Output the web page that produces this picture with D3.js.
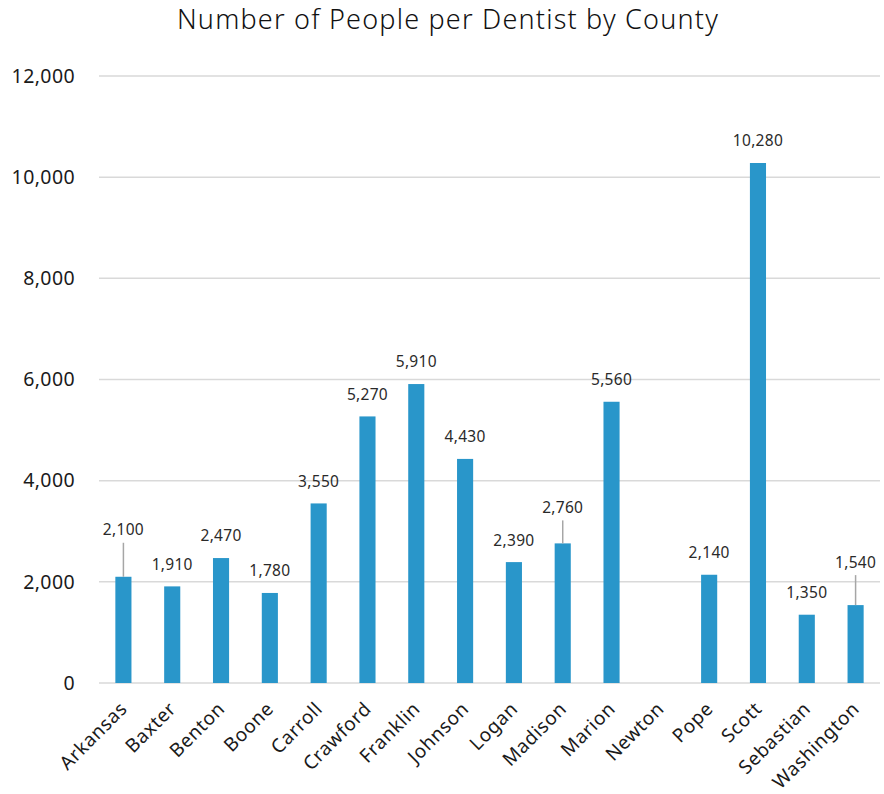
<!DOCTYPE html>
<html>
<head>
<meta charset="utf-8">
<script src="https://cdn.jsdelivr.net/npm/d3@7"></script>
<style>
  html, body { margin: 0; padding: 0; background: #fff; }
  svg { display: block; font-family: "Noto Sans", "Open Sans", sans-serif; }
</style>
</head>
<body>
<svg id="chart" width="884" height="794"></svg>
<script>
// County names along the x axis
const counties = ["Arkansas", "Baxter", "Benton", "Boone", "Carroll", "Crawford", "Franklin", "Johnson",
  "Logan", "Madison", "Marion", "Newton", "Pope", "Scott", "Sebastian", "Washington"];
// People per dentist (Newton has no value)
const peoplePerDentist = [2100, 1910, 2470, 1780, 3550, 5270, 5910, 4430,
  2390, 2760, 5560, null, 2140, 10280, 1350, 1540];
// Y axis ticks
const yTicks = [0, 2000, 4000, 6000, 8000, 10000, 12000];

const FONT = "'Noto Sans', 'Open Sans', sans-serif";
const svg = d3.select("#chart");
const margin = { top: 76, right: 4, bottom: 111, left: 99 };
const W = 884, H = 794;
const innerW = W - margin.left - margin.right;
const innerH = H - margin.top - margin.bottom;

const x = d3.scaleBand().domain(counties).range([margin.left, margin.left + innerW]).paddingInner(0.67).paddingOuter(0.335);
const y = d3.scaleLinear().domain([0, 12000]).range([margin.top + innerH, margin.top]);
const fmt = d3.format(",");

// Title
svg.append("text")
  .attr("x", 448).attr("y", 29)
  .attr("text-anchor", "middle")
  .attr("font-size", 27)
  .attr("font-weight", 300)
  .attr("letter-spacing", 1.2)
  .attr("fill", "#111")
  .text("Number of People per Dentist by County");

// Gridlines
svg.append("g").selectAll("line").data(yTicks).join("line")
  .attr("x1", margin.left).attr("x2", margin.left + innerW)
  .attr("y1", d => y(d)).attr("y2", d => y(d))
  .attr("stroke", "#d9d9d9").attr("stroke-width", 1.5);

// Y axis labels
const yAxis = d3.axisLeft(y).tickValues(yTicks).tickFormat(fmt).tickSize(0).tickPadding(24);
const gy = svg.append("g").attr("transform", `translate(${margin.left},0)`).call(yAxis);
gy.select(".domain").remove();
gy.selectAll("text").attr("font-size", 19.5).attr("letter-spacing", 0.4).attr("fill", "#1a1a1a").attr("font-family", FONT);

// X axis labels, rotated so each ends under its bar
const xAxis = d3.axisBottom(x).tickSize(0).tickPadding(0);
const gx = svg.append("g").attr("transform", `translate(0,${y(0)})`).call(xAxis);
gx.select(".domain").remove();
gx.selectAll("text")
  .attr("font-size", 19).attr("letter-spacing", 0.6).attr("fill", "#1a1a1a").attr("font-family", FONT)
  .attr("text-anchor", "end")
  .attr("dy", null)
  .attr("transform", "translate(5,27) rotate(-45)");

const rows = counties.map((c, i) => ({ county: c, value: peoplePerDentist[i] })).filter(d => d.value != null);

// Bars
svg.append("g").selectAll("rect").data(rows).join("rect")
  .attr("x", d => x(d.county))
  .attr("width", x.bandwidth())
  .attr("y", d => y(d.value))
  .attr("height", d => y(0) - y(d.value))
  .attr("fill", "#2996ca");

// Labels lifted higher with a leader line down to the bar
const leaderLift = { Arkansas: 47, Madison: 36, Washington: 43 };
const lift = d => leaderLift[d.county] || 22;

svg.append("g").selectAll("line").data(rows.filter(d => leaderLift[d.county])).join("line")
  .attr("x1", d => x(d.county) + x.bandwidth() / 2)
  .attr("x2", d => x(d.county) + x.bandwidth() / 2)
  .attr("y1", d => y(d.value) - lift(d) + 13)
  .attr("y2", d => y(d.value))
  .attr("stroke", "#a6a6a6").attr("stroke-width", 1.5);

svg.append("g").selectAll("text").data(rows).join("text")
  .attr("x", d => x(d.county) + x.bandwidth() / 2)
  .attr("y", d => y(d.value) - lift(d))
  .attr("dy", "0.35em")
  .attr("text-anchor", "middle")
  .attr("font-size", 15.5)
  .attr("letter-spacing", 0.3)
  .attr("fill", "#2a2a2a")
  .text(d => fmt(d.value));
</script>
</body>
</html>
